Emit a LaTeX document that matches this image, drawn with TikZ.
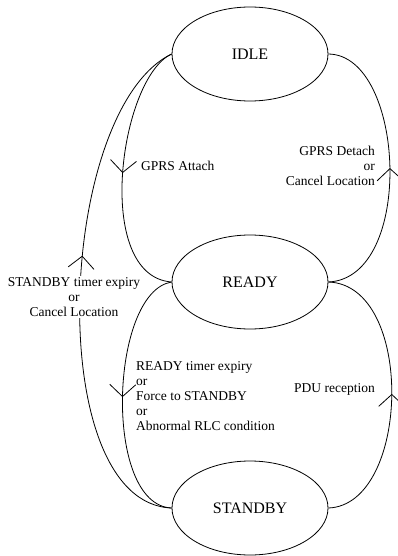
\documentclass[tikz,border=0pt]{standalone}
\usepackage{fontspec}
\setmainfont{Liberation Serif}
\usetikzlibrary{shapes.geometric,decorations.markings}

\tikzset{
  state/.style={draw, ellipse, line width=0.8pt, minimum width=156pt,
                minimum height=94pt, inner sep=0pt,
                font=\fontsize{16}{18}\selectfont},
  lbl/.style={inner sep=1pt, font=\fontsize{13.5}{15}\selectfont},
  trans/.style={line width=0.8pt, postaction={decorate},
    decoration={markings, mark=at position #1 with
      {\draw[line width=0.8pt] (-12pt,13pt) -- (0pt,0pt) -- (-12pt,-13pt);}}},
  trans/.default=0.5
}

\begin{document}
\begin{tikzpicture}[x=1pt, y=-1pt]
  \useasboundingbox (0,0) rectangle (398,556);

  % states
  \node[state] (idle)    at (250,54)  {IDLE};
  \node[state] (ready)   at (250,282) {READY};
  \node[state] (standby) at (250,508) {STANDBY};

  % outer return path, interrupted by its label
  \draw[trans=0.56] (standby.west) .. controls +(-130,-5) and +(-115,56) .. (idle.west);
  \node[lbl, fill=white, align=center] (lsbtimer) at (74,297)
    {STANDBY timer expiry\\or\\Cancel Location};

  % remaining transitions
  \draw[trans] (idle.west) .. controls +(-52,24) and +(-79,-6) .. (ready.west);
  \draw[trans] (ready.west) .. controls +(-62,10) and +(-69,-3) .. (standby.west);
  \draw[trans] (ready.east) .. controls +(87,-4) and +(77,1) .. (idle.east);
  \draw[trans] (standby.east) .. controls +(82,-3) and +(87,3) .. (ready.east);

  % transition labels
  \node[lbl, anchor=west] (lattach) at (140,166) {GPRS Attach};
  \node[lbl, anchor=east, align=right] (ldetach) at (376,166)
    {GPRS Detach\\or\\Cancel Location};
  \node[lbl, anchor=west, align=left] (lrdtimer) at (135,396)
    {READY timer expiry\\or\\Force to STANDBY\\or\\Abnormal RLC condition};
  \node[lbl, anchor=east] (lpdu) at (376,389) {PDU reception};
\end{tikzpicture}
\end{document}
